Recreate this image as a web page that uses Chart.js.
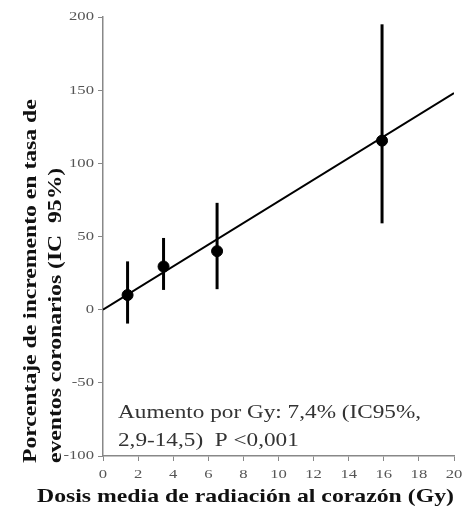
<!DOCTYPE html>
<html>
<head>
<meta charset="utf-8">
<script src="https://cdn.jsdelivr.net/npm/chart.js@4/dist/chart.umd.min.js"></script>
<style>
  html, body { margin: 0; padding: 0; background: #fff; }
  #grafico { width: 467px; height: 517px; }
</style>
</head>
<body>
<div id="grafico"><canvas id="dosisChart" width="467" height="517"></canvas></div>
<script>
// datos
var dosis = [1.4, 3.45, 6.5, 15.9];
var incremento = [10, 29.5, 40, 115.5];
var icInferior = [-9.5, 13.5, 14, 59];
var icSuperior = [33, 49, 73, 195];

// recta de regresion: 7,4% por Gy
var rectaX = [0, 20];
var rectaY = [0, 148];

var ticksY = [-100, -50, 0, 50, 100, 150, 200];
var ticksX = [0, 2, 4, 6, 8, 10, 12, 14, 16, 18, 20];

var tituloY = ['Porcentaje de incremento en tasa de', 'eventos coronarios (IC  95%)'];
var tituloX = 'Dosis media de radiación al corazón (Gy)';
var nota = ['Aumento por Gy: 7,4% (IC95%,', '2,9-14,5)  P <0,001'];

var serif = "'Liberation Serif', 'DejaVu Serif', serif";

// texto ensanchado en horizontal (la figura original esta ensanchada)
function textoAncho(ctx, texto, x, y, alinear, estirar) {
    var w = ctx.measureText(texto).width * estirar;
    var x0 = x;
    if (alinear === 'right') x0 = x - w;
    if (alinear === 'center') x0 = x - w / 2;
    ctx.save();
    ctx.translate(x0, y);
    ctx.scale(estirar, 1);
    ctx.textAlign = 'left';
    ctx.fillText(texto, 0, 0);
    ctx.restore();
}

// barras de error con las escalas del grafico
var barrasError = {
    id: 'barrasError',
    afterDatasetsDraw: function(chart) {
        var ctx = chart.ctx;
        var x = chart.scales.x, y = chart.scales.y;
        ctx.save();
        ctx.strokeStyle = '#000';
        ctx.lineWidth = 3;
        for (var i = 0; i < dosis.length; i++) {
            var px = x.getPixelForValue(dosis[i]);
            ctx.beginPath();
            ctx.moveTo(px, y.getPixelForValue(icInferior[i]));
            ctx.lineTo(px, y.getPixelForValue(icSuperior[i]));
            ctx.stroke();
        }
        ctx.restore();
    }
};

// etiquetas de ejes, titulos y nota
var textos = {
    id: 'textos',
    afterDraw: function(chart) {
        var ctx = chart.ctx;
        var x = chart.scales.x, y = chart.scales.y;
        ctx.save();
        ctx.textBaseline = 'middle';

        ctx.fillStyle = '#555';
        ctx.font = '13px ' + serif;
        ticksY.forEach(function(v) {
            textoAncho(ctx, String(v), y.right - 9, y.getPixelForValue(v), 'right', 1.28);
        });
        ticksX.forEach(function(v) {
            textoAncho(ctx, String(v), x.getPixelForValue(v), x.top + 19, 'center', 1.28);
        });

        ctx.fillStyle = '#111';
        ctx.font = 'bold 19px ' + serif;
        ctx.save();
        ctx.translate(31, 463);
        ctx.rotate(-Math.PI / 2);
        textoAncho(ctx, tituloY[0], 0, 0, 'left', 1.245);
        textoAncho(ctx, tituloY[1], 0, 25, 'left', 1.245);
        ctx.restore();

        textoAncho(ctx, tituloX, 37, 497, 'left', 1.25);

        ctx.fillStyle = '#333';
        ctx.font = '18px ' + serif;
        textoAncho(ctx, nota[0], 118, 413, 'left', 1.29);
        textoAncho(ctx, nota[1], 118, 441, 'left', 1.29);
        ctx.restore();
    }
};

var puntos = dosis.map(function(d, i) { return { x: d, y: incremento[i] }; });
var recta = rectaX.map(function(d, i) { return { x: d, y: rectaY[i] }; });

var config = {
    type: 'scatter',
    data: {
        datasets: [{
            type: 'line',
            data: recta,
            borderColor: '#000',
            borderWidth: 2,
            pointRadius: 0,
            fill: false
        }, {
            data: puntos,
            backgroundColor: '#000',
            borderColor: '#000',
            pointRadius: 5.5
        }]
    },
    options: {
        responsive: false,
        animation: false,
        layout: { padding: { left: 0, top: 17, right: 13, bottom: 0 } },
        plugins: {
            legend: { display: false },
            tooltip: { enabled: false }
        },
        scales: {
            x: {
                type: 'linear',
                min: 0,
                max: 20,
                afterFit: function(s) { s.height = 61; },
                afterBuildTicks: function(s) { s.ticks = ticksX.map(function(v) { return { value: v }; }); },
                grid: { display: true, drawOnChartArea: false, tickLength: 5, color: '#888', lineWidth: 1 },
                border: { color: '#888', width: 1.5 },
                ticks: { display: false }
            },
            y: {
                type: 'linear',
                min: -100,
                max: 200,
                afterFit: function(s) { s.width = 103; },
                afterBuildTicks: function(s) { s.ticks = ticksY.map(function(v) { return { value: v }; }); },
                grid: { display: true, drawOnChartArea: false, tickLength: 5, color: '#888', lineWidth: 1 },
                border: { color: '#888', width: 1.5 },
                ticks: { display: false }
            }
        }
    },
    plugins: [barrasError, textos]
};

new Chart(document.getElementById('dosisChart'), config);
</script>
</body>
</html>
